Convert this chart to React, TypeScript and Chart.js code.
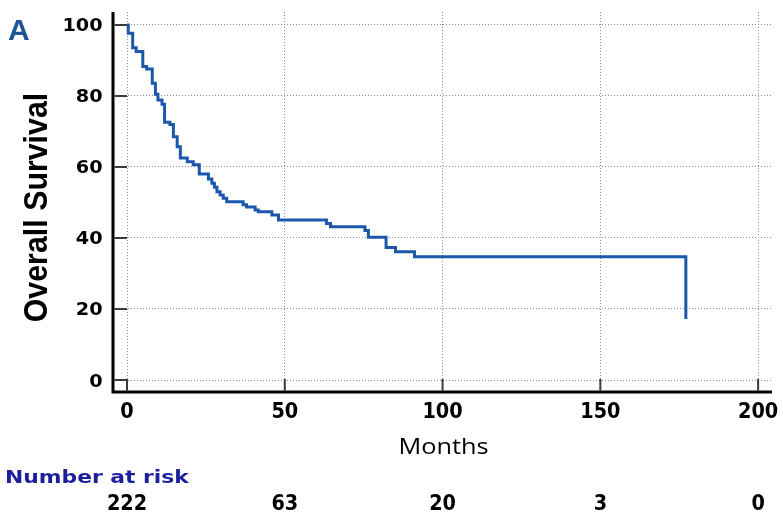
import { useEffect, useRef } from 'react';
import { Chart, registerables } from 'chart.js';

Chart.register(...registerables);

// Kaplan-Meier step points (month of event, survival % after the event)
const months = [0, 0.4, 1.8, 2.9, 5.0, 6.2, 8.0, 9.0, 9.8, 11.1, 11.9, 13.6, 14.7, 15.9, 16.9, 19.1, 21.0, 22.9, 25.8, 26.9, 27.7, 28.5, 29.5, 30.5, 31.6, 36.8, 37.9, 40.6, 41.6, 45.9, 48.0, 63.2, 64.5, 75.4, 76.5, 82.1, 85.1, 91.1, 177.1, 177.1];
const survival = [100, 97.7, 93.6, 92.5, 88.3, 87.6, 83.6, 80.5, 78.9, 77.7, 72.6, 72.0, 68.5, 65.7, 62.5, 61.5, 60.6, 58.0, 56.6, 55.4, 54.3, 53.0, 52.1, 51.2, 50.2, 49.4, 48.7, 47.9, 47.4, 46.5, 45.1, 44.1, 43.2, 42.1, 40.2, 37.3, 36.1, 34.7, 34.7, 17.2];

const xTicks = [0, 50, 100, 150, 200];
const yTicks = [0, 20, 40, 60, 80, 100];
const atRisk = [222, 63, 20, 3, 0];

const panelLabel = 'A';
const yTitle = 'Overall Survival';
const xTitle = 'Months';
const riskTitle = 'Number at risk';

function stretchText(
  ctx: CanvasRenderingContext2D,
  text: string,
  x: number,
  y: number,
  font: string,
  color: string,
  align: 'left' | 'center' | 'right',
  kx: number
) {
  ctx.save();
  ctx.font = font;
  ctx.fillStyle = color;
  ctx.textBaseline = 'alphabetic';
  ctx.textAlign = 'left';
  const w = ctx.measureText(text).width * kx;
  const left = align === 'left' ? x : align === 'center' ? x - w / 2 : x - w;
  ctx.translate(left, y);
  ctx.scale(kx, 1);
  ctx.fillText(text, 0, 0);
  ctx.restore();
}

const decorPlugin = {
  id: 'decor',
  afterDraw(chart: any) {
    const { ctx, chartArea: ca, scales } = chart;
    const xs = scales.x;
    const ys = scales.y;
    ctx.save();
    // axis lines
    ctx.strokeStyle = '#000';
    ctx.lineWidth = 3;
    ctx.beginPath();
    ctx.moveTo(ca.left, ca.top);
    ctx.lineTo(ca.left, ca.bottom + 1.5);
    ctx.moveTo(ca.left - 1.5, ca.bottom);
    ctx.lineTo(ca.right, ca.bottom);
    ctx.stroke();
    // inward tick marks
    ctx.strokeStyle = '#3a3a3a';
    ctx.lineWidth = 2;
    ctx.beginPath();
    yTicks.forEach((v) => {
      const py = ys.getPixelForValue(v);
      ctx.moveTo(ca.left + 1.5, py);
      ctx.lineTo(ca.left + 14, py);
    });
    xTicks.forEach((v) => {
      const px = xs.getPixelForValue(v);
      ctx.moveTo(px, ca.bottom - 1.5);
      ctx.lineTo(px, ca.bottom - 13);
    });
    ctx.stroke();
    ctx.restore();

    const tickFont = 'bold 18.2px "DejaVu Sans", sans-serif';
    const xFont = 'bold 20.5px "DejaVu Sans", sans-serif';
    yTicks.forEach((v) => {
      const py = ys.getPixelForValue(v);
      stretchText(ctx, String(v), ca.left - 10.3, py + 6.5, tickFont, '#000', 'right', 1.06);
    });
    xTicks.forEach((v) => {
      const px = xs.getPixelForValue(v);
      stretchText(ctx, String(v), px, ca.bottom + 26, xFont, '#000', 'center', 0.94);
    });
    atRisk.forEach((n, i) => {
      const px = xs.getPixelForValue(xTicks[i]);
      stretchText(ctx, String(n), px, ca.bottom + 118, xFont, '#000', 'center', 0.94);
    });
    stretchText(ctx, xTitle, (ca.left + ca.right) / 2 + 1, ca.bottom + 62, '22px "Open Sans", "Noto Sans", sans-serif', '#000', 'center', 1.15);
    stretchText(ctx, riskTitle, 5, ca.bottom + 91, 'bold 18.2px "DejaVu Sans", sans-serif', '#1a1f9c', 'left', 1.2);
    stretchText(ctx, panelLabel, 8, 40, 'bold 30px "Liberation Sans", Arial, sans-serif', '#1d5596', 'left', 1.0);

    ctx.save();
    ctx.translate(47, 207.5);
    ctx.rotate(-Math.PI / 2);
    stretchText(ctx, yTitle, 0, 0, 'bold 33px "Liberation Sans", Arial, sans-serif', '#000', 'center', 0.92);
    ctx.restore();
  },
};

export default function App() {
  const ref = useRef<HTMLCanvasElement | null>(null);

  useEffect(() => {
    if (!ref.current) return;
    const gridColor = '#8a8a8a';
    const chart = new Chart(ref.current, {
      type: 'line',
      data: {
        datasets: [
          {
            data: months.map((m, i) => ({ x: m, y: survival[i] })),
            borderColor: '#1b58ab',
            borderWidth: 3,
            pointRadius: 0,
            stepped: true,
            fill: false,
            tension: 0,
          },
        ],
      },
      options: {
        animation: false,
        responsive: false,
        devicePixelRatio: 1,
        layout: { padding: { left: 113, right: 11, top: 12, bottom: 125 } },
        plugins: { legend: { display: false }, tooltip: { enabled: false }, title: { display: false } },
        scales: {
          x: {
            type: 'linear',
            min: -4.44,
            max: 204.4,
            ticks: { display: false },
            grid: { color: gridColor, lineWidth: 1, drawTicks: false },
            border: { display: false, dash: [1, 2] },
            afterBuildTicks: (s: any) => {
              s.ticks = xTicks.map((v) => ({ value: v }));
            },
          },
          y: {
            type: 'linear',
            min: -3.38,
            max: 103.66,
            ticks: { display: false },
            grid: { color: gridColor, lineWidth: 1, drawTicks: false },
            border: { display: false, dash: [1, 2] },
            afterBuildTicks: (s: any) => {
              s.ticks = yTicks.map((v) => ({ value: v }));
            },
          },
        },
      },
      plugins: [decorPlugin],
    } as any);
    return () => chart.destroy();
  }, []);

  return (
    <div style={{ position: 'absolute', left: 0, top: 0, width: 783, height: 517, background: '#fff' }}>
      <canvas ref={ref} width={783} height={517} style={{ width: 783, height: 517, display: 'block' }} />
    </div>
  );
}
